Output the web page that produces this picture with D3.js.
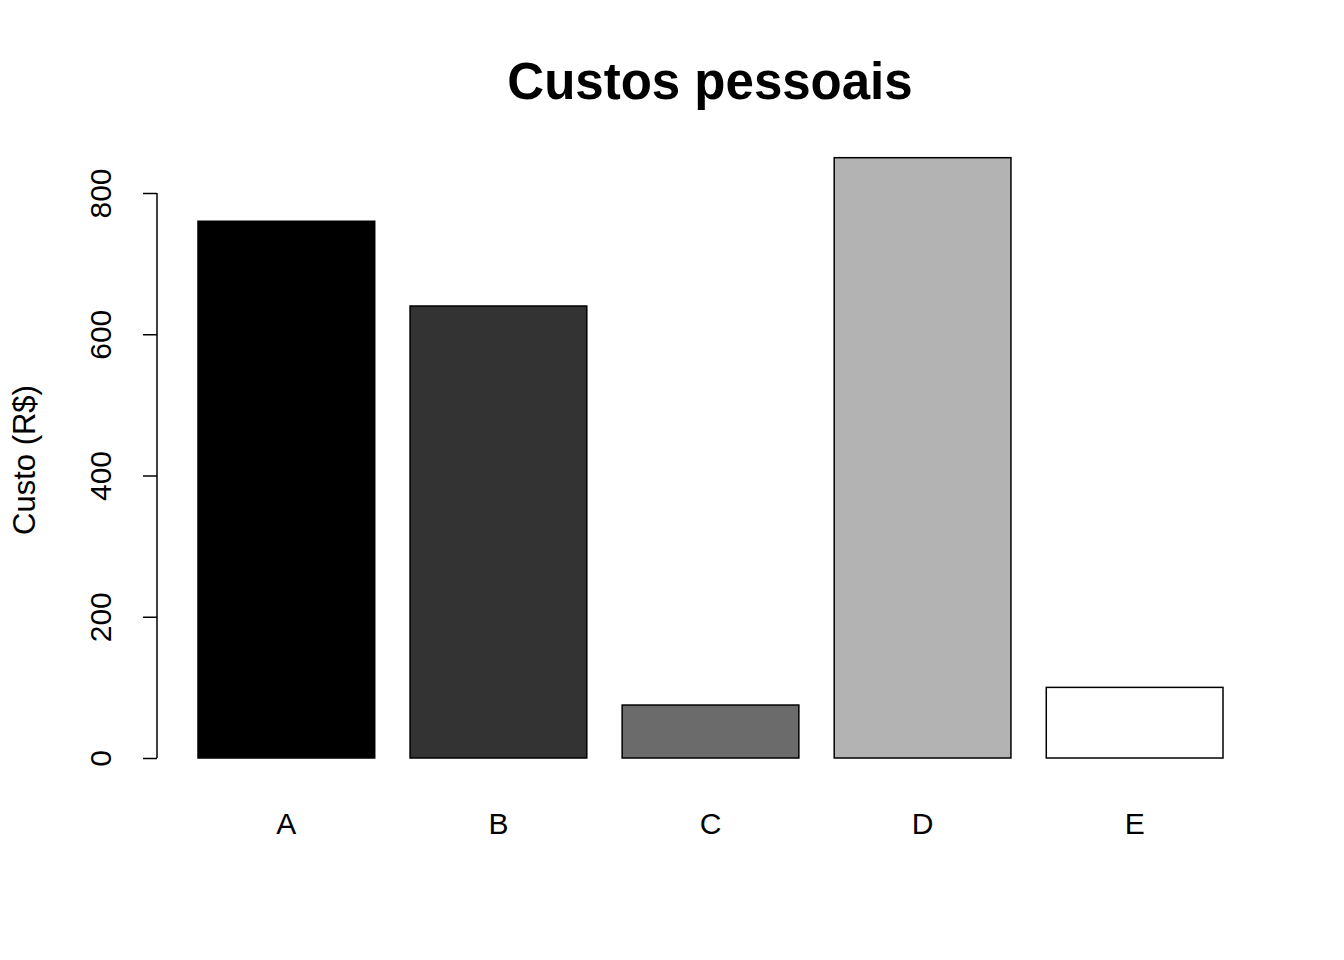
<!DOCTYPE html>
<html><head><meta charset="utf-8">
<script src="https://cdn.jsdelivr.net/npm/d3@7"></script>
<style>body{margin:0;background:#fff}svg{display:block}text{font-family:"Liberation Sans",Arial,sans-serif;fill:#000}</style>
</head><body><svg id="c" width="1344" height="960"></svg>
<script>
const categories = ["A","B","C","D","E"];
const values = [760, 640, 75, 850, 100];
const colors = ["#000000","#333333","#6b6b6b","#b3b3b3","#ffffff"];
const yTicks = [0, 200, 400, 600, 800];
const title = "Custos pessoais";
const yLabel = "Custo (R$)";

const svg = d3.select("#c");
// R-style barplot geometry: width 1, space 0.2, 4% axis extension
const n = categories.length;
const xmin = 0.2, xmax = n * 1.2;
const xpad = (xmax - xmin) * 0.04;
const x = d3.scaleLinear().domain([xmin - xpad, xmax + xpad]).range([157, 1264]);
const y = d3.scaleLinear().domain([0, 800]).range([758, 193]);

const bars = categories.map((c, i) => ({c, v: values[i], col: colors[i], l: 0.2 + i*1.2, r: 1.2 + i*1.2}));

svg.selectAll("rect.bar").data(bars).join("rect").attr("class","bar")
  .attr("x", d => x(d.l)).attr("width", d => x(d.r) - x(d.l))
  .attr("y", d => y(d.v)).attr("height", d => y(0) - y(d.v))
  .attr("fill", d => d.col).attr("stroke", "#000").attr("stroke-width", 1.5);

// y axis
const yAxis = d3.axisLeft(y).tickValues(yTicks).tickSize(14).tickPadding(0).tickFormat(d3.format("d"));
const gy = svg.append("g").attr("transform", "translate(157,0)").call(yAxis);
gy.select(".domain").attr("d", `M0,${y(yTicks[0])}V${y(yTicks[yTicks.length-1])}`).attr("stroke","#000").attr("stroke-width",1.5);
gy.selectAll(".tick line").attr("stroke","#000").attr("stroke-width",1.5);
gy.selectAll(".tick text").attr("font-size", 30).attr("font-family","Liberation Sans, Arial, sans-serif")
  .attr("fill","#000").attr("text-anchor","middle").attr("dy", 0).attr("x", null)
  .attr("transform", "translate(-46,0) rotate(-90)");

// x labels
svg.selectAll("text.xl").data(bars).join("text").attr("class","xl")
  .attr("x", d => x((d.l + d.r)/2)).attr("y", 834)
  .attr("text-anchor","middle").attr("font-size", 30).text(d => d.c);

svg.append("text").attr("x", 710).attr("y", 99).attr("text-anchor","middle")
  .attr("font-size", 51).attr("font-weight","bold").text(title);

svg.append("text").attr("transform","translate(35,460) rotate(-90)").attr("text-anchor","middle")
  .attr("font-size", 31).text(yLabel);
</script></body></html>
